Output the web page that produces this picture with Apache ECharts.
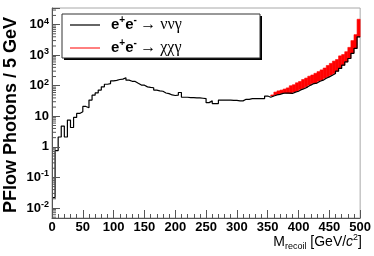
<!DOCTYPE html>
<html><head><meta charset="utf-8">
<script src="https://cdn.jsdelivr.net/npm/echarts@6/dist/echarts.min.js"></script>
<style>html,body{margin:0;padding:0;background:#fff;}#c{width:374px;height:256px;}</style>
</head><body><div id="c"></div>
<script>
// bin low edges (5 GeV bins, 0..500)
const binWidth = 5;
const nBins = 100;
// e+e- -> nu nu gamma (per 5 GeV bin)
const nunuGamma = [
 0.022, 0.75, 2.1, 4.8, 2.1, 7.5, 4.3, 9.2, 12.4, 14,
 21, 19, 34, 49, 58, 72, 92, 112, 118, 144,
 150, 160, 165, 183, 152, 140, 138, 120, 105, 104,
 92, 88, 86, 72, 68, 66, 58, 55, 50, 48,
 49, 60, 42, 42, 41, 41, 40, 40, 39, 38,
 28, 32, 26, 26, 34, 34, 34, 34, 33, 33,
 32, 32, 36, 36, 38, 38, 38, 38, 38, 46,
 42, 46, 50, 52, 56, 58, 57, 56, 62, 66,
 75, 81, 92, 105, 118, 122, 140, 152, 175, 195,
 220, 250, 300, 370, 470, 600, 780, 1150, 1660, 4000
];
// e+e- -> chi chi gamma (stacked on top)
const chiChiGamma = [
 0,0,0,0,0,0,0,0,0,0, 0,0,0,0,0,0,0,0,0,0,
 0,0,0,0,0,0,0,0,0,0, 0,0,0,0,0,0,0,0,0,0,
 0,0,0,0,0,0,0,0,0,0, 0,0,0,0,0,0,0,0,0,0,
 0,0,0,0,0,0,0,0,0,0,
 0, 4, 12, 16, 16, 20, 28, 44, 46, 59,
 63, 79, 86, 100, 107, 133, 150, 178, 205, 265,
 320, 390, 420, 580, 580, 700, 1020, 1850, 3040, 11000
];
const xTicks = [0,50,100,150,200,250,300,350,400,450,500];
const yDecades = [0.01, 0.1, 1, 10, 100, 1000, 10000];
const yMin = 0.0047, yMax = 35000;

function stepData(vals){
  const d = vals.map((v,i)=>[i*binWidth, v]);
  d.push([nBins*binWidth, vals[vals.length-1]]);
  return d;
}
// stacked red boxes: [binLow, binHigh, base (nunu), top (nunu+chichi)]
const redBoxes = [];
chiChiGamma.forEach((s,i)=>{ if (s>0) redBoxes.push([i*binWidth, (i+1)*binWidth, nunuGamma[i], nunuGamma[i]+s]); });

const minorVals = [];
for (let k=-3;k<=4;k++) for (let m=2;m<=9;m++){ const v=m*Math.pow(10,k); if(v>yMin && v<yMax) minorVals.push([0,v]); }

const chart = echarts.init(document.getElementById('c'), null, {renderer:'canvas'});
const axisCol = '#555';
chart.setOption({
  animation:false,
  grid:{left:52, right:12, top:8, bottom:38, show:true, borderColor:'#a8a8a8', borderWidth:1},
  xAxis:{type:'value', min:0, max:500, interval:50, z:8,
    axisLine:{show:true, onZero:false, lineStyle:{color:axisCol}},
    axisTick:{show:true, inside:true, length:8, lineStyle:{color:axisCol}},
    minorTick:{show:true, splitNumber:5, length:4, lineStyle:{color:axisCol}},
    splitLine:{show:false},
    axisLabel:{margin:3, color:'#000', fontFamily:'Liberation Sans', fontWeight:'bold', fontSize:13,
      formatter:v=> xTicks.includes(v)? String(v):''}
  },
  yAxis:{type:'log', logBase:10, min:yMin, max:yMax, z:8,
    axisLine:{show:true, lineStyle:{color:axisCol}},
    axisTick:{show:true, inside:true, length:8, lineStyle:{color:axisCol}},
    splitLine:{show:false},
    axisLabel:{margin:3, color:'#000', fontFamily:'Liberation Sans', fontWeight:'bold', fontSize:13,
      formatter:v=>{
        const l=Math.log10(v), r=Math.round(l);
        if (Math.abs(l-r)>1e-6 || !yDecades.some(d=>Math.abs(Math.log10(d)-r)<1e-6)) return '';
        if (r===0) return '{b|1}';
        if (r===1) return '{b|10}';
        return '{b|10}{s|'+r+'}';
      },
      rich:{b:{fontFamily:'Liberation Sans', fontWeight:'bold', fontSize:13, lineHeight:16},
            s:{fontFamily:'Liberation Sans', fontWeight:'bold', fontSize:9, lineHeight:9, verticalAlign:'top'}}
    }
  },
  series:[
    {type:'custom', name:'chichi', data:redBoxes, silent:true, z:3, clip:true,
     renderItem:(params, api)=>{
       const p0=api.coord([api.value(0), api.value(3)]);
       const p1=api.coord([api.value(1), api.value(2)]);
       return {type:'rect', shape:{x:p0[0], y:p0[1], width:p1[0]-p0[0], height:p1[1]-p0[1]},
               style:{fill:'#ff0000', stroke:'#ff0000', lineWidth:0.6}};
     }},
    {type:'line', name:'nunu', data:stepData(nunuGamma), step:'end', symbol:'none',
     lineStyle:{color:'#000', width:1.2}, z:5, silent:true},
    {type:'custom', data:minorVals, silent:true, z:9,
     renderItem:(params, api)=>{
       const p=api.coord([0, api.value(1)]);
       return {type:'line', shape:{x1:p[0], y1:p[1], x2:p[0]+4, y2:p[1]}, style:{stroke:axisCol, lineWidth:1}};
     }}
  ],
  graphic:[
    {type:'text', x:11, y:115, rotation:Math.PI/2, silent:true,
     style:{text:'PFlow Photons / 5 GeV', fontFamily:'Liberation Sans', fontWeight:'bold', fontSize:18,
       fill:'#000', align:'center', verticalAlign:'middle'}},
    {type:'text', x:362, y:242, silent:true,
     style:{text:'{m|M}{sub|recoil}{m| [GeV/}{i|c}{sup|2}{m|]}', align:'right', verticalAlign:'middle',
       rich:{m:{fontFamily:'Liberation Sans', fontSize:14, lineHeight:18},
             sub:{fontFamily:'Liberation Sans', fontSize:9, lineHeight:9, verticalAlign:'bottom'},
             i:{fontFamily:'Liberation Sans', fontStyle:'italic', fontSize:14, lineHeight:18},
             sup:{fontFamily:'Liberation Sans', fontSize:9, lineHeight:9, verticalAlign:'top'}}}},
    // legend box
    {type:'rect', shape:{x:64, y:16, width:198, height:44}, style:{fill:'#000'}, silent:true, z:10},
    {type:'rect', shape:{x:62, y:14, width:198, height:44}, style:{fill:'#fff', stroke:'#333', lineWidth:1}, silent:true, z:11},
    {type:'line', shape:{x1:70, y1:25, x2:100, y2:25}, style:{stroke:'#000', lineWidth:1.2}, silent:true, z:12},
    {type:'line', shape:{x1:70, y1:48, x2:100, y2:48}, style:{stroke:'#ff0000', lineWidth:1}, silent:true, z:12},
    {type:'text', x:111, y:25, silent:true, z:12,
     style:{text:'{e|e}{s|+}{e|e}{s|-} {a|→ ννγ}', verticalAlign:'middle',
       rich:{e:{fontFamily:'Liberation Sans', fontWeight:'bold', fontSize:15, lineHeight:20},
             s:{fontFamily:'Liberation Sans', fontWeight:'bold', fontSize:10, lineHeight:10, verticalAlign:'top'},
             a:{fontFamily:'Liberation Serif', fontSize:16, lineHeight:20}}}},
    {type:'text', x:111, y:48, silent:true, z:12,
     style:{text:'{e|e}{s|+}{e|e}{s|-} {a|→ χχγ}', verticalAlign:'middle',
       rich:{e:{fontFamily:'Liberation Sans', fontWeight:'bold', fontSize:15, lineHeight:20},
             s:{fontFamily:'Liberation Sans', fontWeight:'bold', fontSize:10, lineHeight:10, verticalAlign:'top'},
             a:{fontFamily:'Liberation Serif', fontSize:16, lineHeight:20}}}}
  ]
});
</script></body></html>
